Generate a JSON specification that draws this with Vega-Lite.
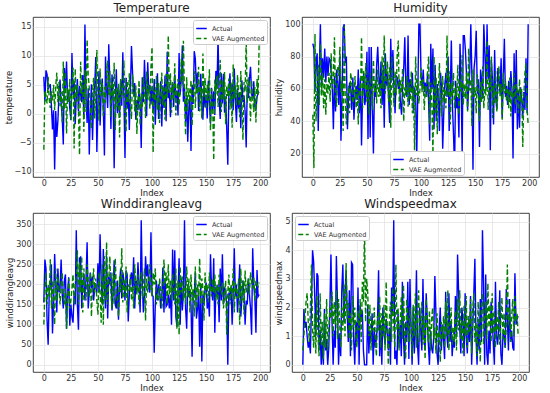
{
"$schema":"https://vega.github.io/schema/vega-lite/v6.json",
"padding":{"left":3,"top":1,"right":5,"bottom":1},
"columns":2,
"align":"none",
"spacing":{"row":0,"column":3},
"resolve":{"scale":{"color":"independent","strokeDash":"independent","x":"independent","y":"independent"},"legend":{"color":"independent","strokeDash":"independent"}},
"config":{
 "font":"DejaVu Sans",
 "view":{"stroke":"#111","strokeWidth":0.8},
 "axis":{"grid":true,"gridColor":"#e3e3e3","gridWidth":0.8,"domain":false,"ticks":false,"labelFontSize":8,"labelColor":"#333","titleFontSize":8.5,"titleFontWeight":"normal","titleColor":"#222","labelPadding":2,"titlePadding":1},
 "title":{"fontSize":12,"fontWeight":"normal","color":"#222","offset":2},
 "legend":{"title":null,"symbolType":"stroke","symbolSize":110,"symbolStrokeWidth":1.6,"labelFontSize":6.5,"labelColor":"#333","rowPadding":0,"padding":2,"strokeColor":"#cccccc","fillColor":"#ffffff","cornerRadius":2,"offset":3,"labelOffset":4}
},
"datasets":{
"temperature":[
{"Index":0,"Actual":6.4,"VAE Augmented":-6.2},{"Index":1,"Actual":2.1,"VAE Augmented":4.0},{"Index":2,"Actual":7.5,"VAE Augmented":3.2},{"Index":3,"Actual":6.8,"VAE Augmented":1.8},{"Index":4,"Actual":4.2,"VAE Augmented":6.4},{"Index":5,"Actual":4.9,"VAE Augmented":2.5},{"Index":6,"Actual":5.0,"VAE Augmented":1.0},{"Index":7,"Actual":1.5,"VAE Augmented":3.9},{"Index":8,"Actual":-2.7,"VAE Augmented":2.2},{"Index":9,"Actual":0.6,"VAE Augmented":5.0},
{"Index":10,"Actual":-9.6,"VAE Augmented":0.6},{"Index":11,"Actual":0.5,"VAE Augmented":4.8},{"Index":12,"Actual":-4.0,"VAE Augmented":7.1},{"Index":13,"Actual":-1.2,"VAE Augmented":2.0},{"Index":14,"Actual":3.5,"VAE Augmented":5.5},{"Index":15,"Actual":5.9,"VAE Augmented":1.3},{"Index":16,"Actual":1.8,"VAE Augmented":3.8},{"Index":17,"Actual":-0.5,"VAE Augmented":-1.5},{"Index":18,"Actual":-5.3,"VAE Augmented":9.0},{"Index":19,"Actual":7.9,"VAE Augmented":0.8},
{"Index":20,"Actual":4.1,"VAE Augmented":7.2},{"Index":21,"Actual":9.0,"VAE Augmented":-3.4},{"Index":22,"Actual":2.2,"VAE Augmented":4.4},{"Index":23,"Actual":3.8,"VAE Augmented":2.0},{"Index":24,"Actual":0.9,"VAE Augmented":6.0},{"Index":25,"Actual":-1.1,"VAE Augmented":-1.0},{"Index":26,"Actual":10.5,"VAE Augmented":4.2},{"Index":27,"Actual":3.2,"VAE Augmented":8.0},{"Index":28,"Actual":5.6,"VAE Augmented":-6.0},{"Index":29,"Actual":-1.8,"VAE Augmented":7.8},
{"Index":30,"Actual":2.9,"VAE Augmented":2.1},{"Index":31,"Actual":6.0,"VAE Augmented":4.9},{"Index":32,"Actual":0.4,"VAE Augmented":0.6},{"Index":33,"Actual":4.8,"VAE Augmented":-7.1},{"Index":34,"Actual":3.3,"VAE Augmented":9.0},{"Index":35,"Actual":2.0,"VAE Augmented":3.4},{"Index":36,"Actual":6.7,"VAE Augmented":5.8},{"Index":37,"Actual":-0.9,"VAE Augmented":-3.1},{"Index":38,"Actual":15.4,"VAE Augmented":7.6},{"Index":39,"Actual":3.1,"VAE Augmented":0.3},
{"Index":40,"Actual":-1.6,"VAE Augmented":12.8},{"Index":41,"Actual":4.4,"VAE Augmented":6.8},{"Index":42,"Actual":-7.0,"VAE Augmented":4.5},{"Index":43,"Actual":0.3,"VAE Augmented":1.5},{"Index":44,"Actual":5.1,"VAE Augmented":-2.6},{"Index":45,"Actual":-4.5,"VAE Augmented":3.7},{"Index":46,"Actual":2.6,"VAE Augmented":6.2},{"Index":47,"Actual":4.7,"VAE Augmented":-0.8},{"Index":48,"Actual":9.8,"VAE Augmented":4.0},{"Index":49,"Actual":-6.6,"VAE Augmented":11.0},
{"Index":50,"Actual":1.9,"VAE Augmented":2.7},{"Index":51,"Actual":7.4,"VAE Augmented":-1.2},{"Index":52,"Actual":-2.0,"VAE Augmented":7.8},{"Index":53,"Actual":3.6,"VAE Augmented":3.0},{"Index":54,"Actual":6.1,"VAE Augmented":5.3},{"Index":55,"Actual":0.8,"VAE Augmented":-0.4},{"Index":56,"Actual":-7.2,"VAE Augmented":4.6},{"Index":57,"Actual":9.9,"VAE Augmented":1.9},{"Index":58,"Actual":4.3,"VAE Augmented":6.9},{"Index":59,"Actual":1.0,"VAE Augmented":9.2},
{"Index":60,"Actual":12.0,"VAE Augmented":3.1},{"Index":61,"Actual":5.5,"VAE Augmented":7.4},{"Index":62,"Actual":-2.6,"VAE Augmented":-0.5},{"Index":63,"Actual":6.8,"VAE Augmented":5.6},{"Index":64,"Actual":3.0,"VAE Augmented":2.3},{"Index":65,"Actual":-9.4,"VAE Augmented":8.8},{"Index":66,"Actual":2.2,"VAE Augmented":-2.8},{"Index":67,"Actual":7.7,"VAE Augmented":4.5},{"Index":68,"Actual":0.1,"VAE Augmented":1.0},{"Index":69,"Actual":4.6,"VAE Augmented":5.2},
{"Index":70,"Actual":-0.7,"VAE Augmented":-4.1},{"Index":71,"Actual":5.8,"VAE Augmented":6.0},{"Index":72,"Actual":1.4,"VAE Augmented":2.7},{"Index":73,"Actual":10.6,"VAE Augmented":3.4},{"Index":74,"Actual":2.9,"VAE Augmented":9.2},{"Index":75,"Actual":-7.6,"VAE Augmented":0.5},{"Index":76,"Actual":6.2,"VAE Augmented":-3.0},{"Index":77,"Actual":0.9,"VAE Augmented":5.7},{"Index":78,"Actual":3.7,"VAE Augmented":2.0},{"Index":79,"Actual":-2.8,"VAE Augmented":7.0},
{"Index":80,"Actual":4.0,"VAE Augmented":1.3},{"Index":81,"Actual":11.7,"VAE Augmented":-0.9},{"Index":82,"Actual":7.0,"VAE Augmented":6.8},{"Index":83,"Actual":3.1,"VAE Augmented":3.6},{"Index":84,"Actual":5.3,"VAE Augmented":0.4},{"Index":85,"Actual":-1.0,"VAE Augmented":4.9},{"Index":86,"Actual":2.4,"VAE Augmented":-3.5},{"Index":87,"Actual":0.6,"VAE Augmented":2.5},{"Index":88,"Actual":4.4,"VAE Augmented":5.8},{"Index":89,"Actual":1.8,"VAE Augmented":-2.0},
{"Index":90,"Actual":-5.9,"VAE Augmented":3.5},{"Index":91,"Actual":6.3,"VAE Augmented":1.1},{"Index":92,"Actual":2.0,"VAE Augmented":6.4},{"Index":93,"Actual":9.3,"VAE Augmented":4.0},{"Index":94,"Actual":4.1,"VAE Augmented":-0.7},{"Index":95,"Actual":-0.4,"VAE Augmented":7.3},{"Index":96,"Actual":8.9,"VAE Augmented":2.4},{"Index":97,"Actual":3.8,"VAE Augmented":5.0},{"Index":98,"Actual":5.0,"VAE Augmented":0.9},{"Index":99,"Actual":1.6,"VAE Augmented":8.0},
{"Index":100,"Actual":4.7,"VAE Augmented":11.5},{"Index":101,"Actual":0.2,"VAE Augmented":-6.7},{"Index":102,"Actual":6.0,"VAE Augmented":4.1},{"Index":103,"Actual":-1.9,"VAE Augmented":2.2},{"Index":104,"Actual":3.4,"VAE Augmented":6.5},{"Index":105,"Actual":7.0,"VAE Augmented":0.7},{"Index":106,"Actual":-0.9,"VAE Augmented":5.3},{"Index":107,"Actual":2.5,"VAE Augmented":-1.6},{"Index":108,"Actual":5.6,"VAE Augmented":3.0},{"Index":109,"Actual":-2.2,"VAE Augmented":7.1},
{"Index":110,"Actual":4.9,"VAE Augmented":1.5},{"Index":111,"Actual":1.0,"VAE Augmented":4.6},{"Index":112,"Actual":6.6,"VAE Augmented":-1.0},{"Index":113,"Actual":-1.3,"VAE Augmented":6.9},{"Index":114,"Actual":10.7,"VAE Augmented":2.8},{"Index":115,"Actual":2.7,"VAE Augmented":13.5},{"Index":116,"Actual":4.2,"VAE Augmented":3.6},{"Index":117,"Actual":-0.6,"VAE Augmented":7.0},{"Index":118,"Actual":3.9,"VAE Augmented":0.2},{"Index":119,"Actual":5.4,"VAE Augmented":5.5},
{"Index":120,"Actual":1.2,"VAE Augmented":2.6},{"Index":121,"Actual":6.8,"VAE Augmented":8.7},{"Index":122,"Actual":2.5,"VAE Augmented":-0.3},{"Index":123,"Actual":4.0,"VAE Augmented":4.3},{"Index":124,"Actual":-0.3,"VAE Augmented":6.0},{"Index":125,"Actual":10.5,"VAE Augmented":1.4},{"Index":126,"Actual":3.3,"VAE Augmented":3.9},{"Index":127,"Actual":5.9,"VAE Augmented":9.5},{"Index":128,"Actual":11.8,"VAE Augmented":5.1},{"Index":129,"Actual":2.1,"VAE Augmented":12.6},
{"Index":130,"Actual":4.5,"VAE Augmented":3.0},{"Index":131,"Actual":-1.5,"VAE Augmented":-3.7},{"Index":132,"Actual":2.8,"VAE Augmented":6.3},{"Index":133,"Actual":-4.8,"VAE Augmented":0.5},{"Index":134,"Actual":0.9,"VAE Augmented":4.4},{"Index":135,"Actual":3.2,"VAE Augmented":2.1},{"Index":136,"Actual":-6.4,"VAE Augmented":5.8},{"Index":137,"Actual":5.0,"VAE Augmented":-2.1},{"Index":138,"Actual":1.7,"VAE Augmented":3.3},{"Index":139,"Actual":10.8,"VAE Augmented":7.4},
{"Index":140,"Actual":9.5,"VAE Augmented":1.0},{"Index":141,"Actual":4.2,"VAE Augmented":5.2},{"Index":142,"Actual":7.1,"VAE Augmented":3.5},{"Index":143,"Actual":0.5,"VAE Augmented":8.1},{"Index":144,"Actual":3.6,"VAE Augmented":0.4},{"Index":145,"Actual":6.9,"VAE Augmented":4.6},{"Index":146,"Actual":2.3,"VAE Augmented":-0.8},{"Index":147,"Actual":-1.0,"VAE Augmented":10.4},{"Index":148,"Actual":4.8,"VAE Augmented":2.9},{"Index":149,"Actual":1.1,"VAE Augmented":6.2},
{"Index":150,"Actual":3.3,"VAE Augmented":0.8},{"Index":151,"Actual":-0.8,"VAE Augmented":5.0},{"Index":152,"Actual":5.7,"VAE Augmented":2.2},{"Index":153,"Actual":2.0,"VAE Augmented":7.7},{"Index":154,"Actual":-1.7,"VAE Augmented":-2.9},{"Index":155,"Actual":4.5,"VAE Augmented":4.3},{"Index":156,"Actual":0.6,"VAE Augmented":1.6},{"Index":157,"Actual":3.9,"VAE Augmented":-8.0},{"Index":158,"Actual":-0.2,"VAE Augmented":5.9},{"Index":159,"Actual":7.4,"VAE Augmented":3.4},
{"Index":160,"Actual":4.3,"VAE Augmented":6.6},{"Index":161,"Actual":13.3,"VAE Augmented":1.2},{"Index":162,"Actual":2.6,"VAE Augmented":4.0},{"Index":163,"Actual":-0.9,"VAE Augmented":9.3},{"Index":164,"Actual":7.0,"VAE Augmented":0.3},{"Index":165,"Actual":1.8,"VAE Augmented":5.7},{"Index":166,"Actual":6.9,"VAE Augmented":2.5},{"Index":167,"Actual":0.2,"VAE Augmented":7.2},{"Index":168,"Actual":3.0,"VAE Augmented":-1.8},{"Index":169,"Actual":-2.4,"VAE Augmented":4.8},
{"Index":170,"Actual":-8.8,"VAE Augmented":3.1},{"Index":171,"Actual":4.1,"VAE Augmented":6.1},{"Index":172,"Actual":7.0,"VAE Augmented":0.7},{"Index":173,"Actual":1.5,"VAE Augmented":5.4},{"Index":174,"Actual":5.2,"VAE Augmented":-2.4},{"Index":175,"Actual":0.6,"VAE Augmented":8.5},{"Index":176,"Actual":7.8,"VAE Augmented":2.6},{"Index":177,"Actual":2.2,"VAE Augmented":4.9},{"Index":178,"Actual":-1.4,"VAE Augmented":1.5},{"Index":179,"Actual":4.4,"VAE Augmented":6.7},
{"Index":180,"Actual":0.9,"VAE Augmented":3.2},{"Index":181,"Actual":3.7,"VAE Augmented":-0.6},{"Index":182,"Actual":-2.5,"VAE Augmented":7.4},{"Index":183,"Actual":5.8,"VAE Augmented":2.0},{"Index":184,"Actual":2.0,"VAE Augmented":-4.5},{"Index":185,"Actual":3.1,"VAE Augmented":5.5},{"Index":186,"Actual":0.4,"VAE Augmented":3.8},{"Index":187,"Actual":-5.8,"VAE Augmented":12.8},{"Index":188,"Actual":4.9,"VAE Augmented":1.9},{"Index":189,"Actual":2.7,"VAE Augmented":6.3},
{"Index":190,"Actual":6.0,"VAE Augmented":4.1},{"Index":191,"Actual":8.1,"VAE Augmented":-1.3},{"Index":192,"Actual":3.4,"VAE Augmented":5.8},{"Index":193,"Actual":2.5,"VAE Augmented":2.7},{"Index":194,"Actual":5.6,"VAE Augmented":0.3},{"Index":195,"Actual":1.2,"VAE Augmented":4.6},{"Index":196,"Actual":0.8,"VAE Augmented":-1.5},{"Index":197,"Actual":2.9,"VAE Augmented":6.0},{"Index":198,"Actual":3.6,"VAE Augmented":3.3},{"Index":199,"Actual":3.8,"VAE Augmented":12.3}
],
"humidity":[
{"Index":0,"Actual":88,"VAE Augmented":44},{"Index":1,"Actual":85,"VAE Augmented":11},{"Index":2,"Actual":58,"VAE Augmented":94},{"Index":3,"Actual":76,"VAE Augmented":40},{"Index":4,"Actual":82,"VAE Augmented":61},{"Index":5,"Actual":34,"VAE Augmented":75},{"Index":6,"Actual":72,"VAE Augmented":50},{"Index":7,"Actual":100,"VAE Augmented":88},{"Index":8,"Actual":62,"VAE Augmented":56},{"Index":9,"Actual":79,"VAE Augmented":70},
{"Index":10,"Actual":67,"VAE Augmented":48},{"Index":11,"Actual":85,"VAE Augmented":66},{"Index":12,"Actual":64,"VAE Augmented":44},{"Index":13,"Actual":80,"VAE Augmented":63},{"Index":14,"Actual":68,"VAE Augmented":57},{"Index":15,"Actual":79,"VAE Augmented":70},{"Index":16,"Actual":78,"VAE Augmented":52},{"Index":17,"Actual":70,"VAE Augmented":82},{"Index":18,"Actual":61,"VAE Augmented":60},{"Index":19,"Actual":35,"VAE Augmented":67},
{"Index":20,"Actual":68,"VAE Augmented":92},{"Index":21,"Actual":46,"VAE Augmented":55},{"Index":22,"Actual":72,"VAE Augmented":49},{"Index":23,"Actual":63,"VAE Augmented":74},{"Index":24,"Actual":50,"VAE Augmented":68},{"Index":25,"Actual":80,"VAE Augmented":86},{"Index":26,"Actual":28,"VAE Augmented":58},{"Index":27,"Actual":55,"VAE Augmented":65},{"Index":28,"Actual":98,"VAE Augmented":34},{"Index":29,"Actual":100,"VAE Augmented":99},
{"Index":30,"Actual":76,"VAE Augmented":52},{"Index":31,"Actual":80,"VAE Augmented":38},{"Index":32,"Actual":35,"VAE Augmented":57},{"Index":33,"Actual":55,"VAE Augmented":62},{"Index":34,"Actual":64,"VAE Augmented":45},{"Index":35,"Actual":60,"VAE Augmented":70},{"Index":36,"Actual":47,"VAE Augmented":64},{"Index":37,"Actual":67,"VAE Augmented":51},{"Index":38,"Actual":41,"VAE Augmented":55},{"Index":39,"Actual":56,"VAE Augmented":68},
{"Index":40,"Actual":62,"VAE Augmented":48},{"Index":41,"Actual":53,"VAE Augmented":60},{"Index":42,"Actual":72,"VAE Augmented":38},{"Index":43,"Actual":45,"VAE Augmented":62},{"Index":44,"Actual":67,"VAE Augmented":55},{"Index":45,"Actual":25,"VAE Augmented":92},{"Index":46,"Actual":58,"VAE Augmented":48},{"Index":47,"Actual":70,"VAE Augmented":71},{"Index":48,"Actual":50,"VAE Augmented":60},{"Index":49,"Actual":55,"VAE Augmented":76},
{"Index":50,"Actual":83,"VAE Augmented":52},{"Index":51,"Actual":29,"VAE Augmented":65},{"Index":52,"Actual":86,"VAE Augmented":44},{"Index":53,"Actual":30,"VAE Augmented":70},{"Index":54,"Actual":86,"VAE Augmented":61},{"Index":55,"Actual":50,"VAE Augmented":47},{"Index":56,"Actual":20,"VAE Augmented":78},{"Index":57,"Actual":62,"VAE Augmented":58},{"Index":58,"Actual":55,"VAE Augmented":66},{"Index":59,"Actual":75,"VAE Augmented":51},
{"Index":60,"Actual":86,"VAE Augmented":72},{"Index":61,"Actual":68,"VAE Augmented":55},{"Index":62,"Actual":57,"VAE Augmented":63},{"Index":63,"Actual":77,"VAE Augmented":48},{"Index":64,"Actual":50,"VAE Augmented":80},{"Index":65,"Actual":72,"VAE Augmented":60},{"Index":66,"Actual":36,"VAE Augmented":93},{"Index":67,"Actual":82,"VAE Augmented":57},{"Index":68,"Actual":62,"VAE Augmented":68},{"Index":69,"Actual":70,"VAE Augmented":77},
{"Index":70,"Actual":55,"VAE Augmented":52},{"Index":71,"Actual":39,"VAE Augmented":74},{"Index":72,"Actual":91,"VAE Augmented":36},{"Index":73,"Actual":67,"VAE Augmented":80},{"Index":74,"Actual":84,"VAE Augmented":62},{"Index":75,"Actual":60,"VAE Augmented":49},{"Index":76,"Actual":45,"VAE Augmented":71},{"Index":77,"Actual":68,"VAE Augmented":56},{"Index":78,"Actual":67,"VAE Augmented":82},{"Index":79,"Actual":60,"VAE Augmented":90},
{"Index":80,"Actual":66,"VAE Augmented":47},{"Index":81,"Actual":51,"VAE Augmented":66},{"Index":82,"Actual":44,"VAE Augmented":58},{"Index":83,"Actual":62,"VAE Augmented":73},{"Index":84,"Actual":73,"VAE Augmented":40},{"Index":85,"Actual":92,"VAE Augmented":61},{"Index":86,"Actual":60,"VAE Augmented":56},{"Index":87,"Actual":55,"VAE Augmented":68},{"Index":88,"Actual":93,"VAE Augmented":49},{"Index":89,"Actual":50,"VAE Augmented":64},
{"Index":90,"Actual":66,"VAE Augmented":53},{"Index":91,"Actual":58,"VAE Augmented":71},{"Index":92,"Actual":70,"VAE Augmented":45},{"Index":93,"Actual":45,"VAE Augmented":62},{"Index":94,"Actual":61,"VAE Augmented":22},{"Index":95,"Actual":56,"VAE Augmented":80},{"Index":96,"Actual":18,"VAE Augmented":56},{"Index":97,"Actual":57,"VAE Augmented":66},{"Index":98,"Actual":100,"VAE Augmented":51},{"Index":99,"Actual":100,"VAE Augmented":60},
{"Index":100,"Actual":68,"VAE Augmented":73},{"Index":101,"Actual":61,"VAE Augmented":58},{"Index":102,"Actual":72,"VAE Augmented":66},{"Index":103,"Actual":58,"VAE Augmented":47},{"Index":104,"Actual":64,"VAE Augmented":62},{"Index":105,"Actual":55,"VAE Augmented":55},{"Index":106,"Actual":70,"VAE Augmented":70},{"Index":107,"Actual":52,"VAE Augmented":80},{"Index":108,"Actual":28,"VAE Augmented":38},{"Index":109,"Actual":88,"VAE Augmented":64},
{"Index":110,"Actual":60,"VAE Augmented":50},{"Index":111,"Actual":85,"VAE Augmented":20},{"Index":112,"Actual":35,"VAE Augmented":80},{"Index":113,"Actual":75,"VAE Augmented":45},{"Index":114,"Actual":40,"VAE Augmented":67},{"Index":115,"Actual":63,"VAE Augmented":32},{"Index":116,"Actual":55,"VAE Augmented":58},{"Index":117,"Actual":34,"VAE Augmented":76},{"Index":118,"Actual":70,"VAE Augmented":55},{"Index":119,"Actual":60,"VAE Augmented":43},
{"Index":120,"Actual":23,"VAE Augmented":68},{"Index":121,"Actual":45,"VAE Augmented":52},{"Index":122,"Actual":63,"VAE Augmented":60},{"Index":123,"Actual":70,"VAE Augmented":48},{"Index":124,"Actual":55,"VAE Augmented":93},{"Index":125,"Actual":80,"VAE Augmented":56},{"Index":126,"Actual":34,"VAE Augmented":71},{"Index":127,"Actual":58,"VAE Augmented":38},{"Index":128,"Actual":90,"VAE Augmented":64},{"Index":129,"Actual":50,"VAE Augmented":53},
{"Index":130,"Actual":32,"VAE Augmented":70},{"Index":131,"Actual":10,"VAE Augmented":48},{"Index":132,"Actual":65,"VAE Augmented":61},{"Index":133,"Actual":48,"VAE Augmented":55},{"Index":134,"Actual":55,"VAE Augmented":75},{"Index":135,"Actual":30,"VAE Augmented":44},{"Index":136,"Actual":88,"VAE Augmented":66},{"Index":137,"Actual":65,"VAE Augmented":58},{"Index":138,"Actual":19,"VAE Augmented":81},{"Index":139,"Actual":93,"VAE Augmented":50},
{"Index":140,"Actual":93,"VAE Augmented":63},{"Index":141,"Actual":84,"VAE Augmented":54},{"Index":142,"Actual":69,"VAE Augmented":70},{"Index":143,"Actual":47,"VAE Augmented":46},{"Index":144,"Actual":60,"VAE Augmented":85},{"Index":145,"Actual":70,"VAE Augmented":59},{"Index":146,"Actual":100,"VAE Augmented":66},{"Index":147,"Actual":68,"VAE Augmented":37},{"Index":148,"Actual":10,"VAE Augmented":72},{"Index":149,"Actual":73,"VAE Augmented":55},
{"Index":150,"Actual":80,"VAE Augmented":61},{"Index":151,"Actual":96,"VAE Augmented":45},{"Index":152,"Actual":57,"VAE Augmented":69},{"Index":153,"Actual":66,"VAE Augmented":57},{"Index":154,"Actual":24,"VAE Augmented":40},{"Index":155,"Actual":72,"VAE Augmented":65},{"Index":156,"Actual":65,"VAE Augmented":52},{"Index":157,"Actual":54,"VAE Augmented":74},{"Index":158,"Actual":100,"VAE Augmented":48},{"Index":159,"Actual":82,"VAE Augmented":60},
{"Index":160,"Actual":60,"VAE Augmented":56},{"Index":161,"Actual":100,"VAE Augmented":90},{"Index":162,"Actual":66,"VAE Augmented":47},{"Index":163,"Actual":87,"VAE Augmented":67},{"Index":164,"Actual":22,"VAE Augmented":58},{"Index":165,"Actual":78,"VAE Augmented":80},{"Index":166,"Actual":66,"VAE Augmented":42},{"Index":167,"Actual":38,"VAE Augmented":62},{"Index":168,"Actual":84,"VAE Augmented":51},{"Index":169,"Actual":55,"VAE Augmented":71},
{"Index":170,"Actual":47,"VAE Augmented":46},{"Index":171,"Actual":73,"VAE Augmented":58},{"Index":172,"Actual":64,"VAE Augmented":74},{"Index":173,"Actual":58,"VAE Augmented":55},{"Index":174,"Actual":79,"VAE Augmented":63},{"Index":175,"Actual":42,"VAE Augmented":41},{"Index":176,"Actual":68,"VAE Augmented":70},{"Index":177,"Actual":91,"VAE Augmented":57},{"Index":178,"Actual":55,"VAE Augmented":65},{"Index":179,"Actual":62,"VAE Augmented":52},
{"Index":180,"Actual":50,"VAE Augmented":60},{"Index":181,"Actual":65,"VAE Augmented":48},{"Index":182,"Actual":52,"VAE Augmented":67},{"Index":183,"Actual":71,"VAE Augmented":43},{"Index":184,"Actual":60,"VAE Augmented":59},{"Index":185,"Actual":17,"VAE Augmented":54},{"Index":186,"Actual":82,"VAE Augmented":70},{"Index":187,"Actual":45,"VAE Augmented":50},{"Index":188,"Actual":84,"VAE Augmented":63},{"Index":189,"Actual":35,"VAE Augmented":58},
{"Index":190,"Actual":59,"VAE Augmented":45},{"Index":191,"Actual":36,"VAE Augmented":66},{"Index":192,"Actual":61,"VAE Augmented":52},{"Index":193,"Actual":54,"VAE Augmented":60},{"Index":194,"Actual":42,"VAE Augmented":24},{"Index":195,"Actual":58,"VAE Augmented":56},{"Index":196,"Actual":47,"VAE Augmented":70},{"Index":197,"Actual":79,"VAE Augmented":76},{"Index":198,"Actual":45,"VAE Augmented":48},{"Index":199,"Actual":100,"VAE Augmented":38}
],
"winddir":[
{"Index":0,"Actual":155,"VAE Augmented":100},{"Index":1,"Actual":262,"VAE Augmented":180},{"Index":2,"Actual":240,"VAE Augmented":230},{"Index":3,"Actual":110,"VAE Augmented":150},{"Index":4,"Actual":50,"VAE Augmented":200},{"Index":5,"Actual":180,"VAE Augmented":170},{"Index":6,"Actual":200,"VAE Augmented":263},{"Index":7,"Actual":250,"VAE Augmented":140},{"Index":8,"Actual":78,"VAE Augmented":210},{"Index":9,"Actual":150,"VAE Augmented":175},
{"Index":10,"Actual":276,"VAE Augmented":100},{"Index":11,"Actual":200,"VAE Augmented":240},{"Index":12,"Actual":130,"VAE Augmented":160},{"Index":13,"Actual":240,"VAE Augmented":220},{"Index":14,"Actual":180,"VAE Augmented":190},{"Index":15,"Actual":190,"VAE Augmented":150},{"Index":16,"Actual":262,"VAE Augmented":200},{"Index":17,"Actual":175,"VAE Augmented":230},{"Index":18,"Actual":140,"VAE Augmented":175},{"Index":19,"Actual":210,"VAE Augmented":150},
{"Index":20,"Actual":225,"VAE Augmented":190},{"Index":21,"Actual":90,"VAE Augmented":90},{"Index":22,"Actual":180,"VAE Augmented":170},{"Index":23,"Actual":218,"VAE Augmented":215},{"Index":24,"Actual":97,"VAE Augmented":140},{"Index":25,"Actual":150,"VAE Augmented":160},{"Index":26,"Actual":120,"VAE Augmented":190},{"Index":27,"Actual":105,"VAE Augmented":225},{"Index":28,"Actual":180,"VAE Augmented":150},{"Index":29,"Actual":150,"VAE Augmented":200},
{"Index":30,"Actual":335,"VAE Augmented":220},{"Index":31,"Actual":150,"VAE Augmented":285},{"Index":32,"Actual":87,"VAE Augmented":150},{"Index":33,"Actual":265,"VAE Augmented":255},{"Index":34,"Actual":268,"VAE Augmented":180},{"Index":35,"Actual":140,"VAE Augmented":270},{"Index":36,"Actual":200,"VAE Augmented":130},{"Index":37,"Actual":225,"VAE Augmented":240},{"Index":38,"Actual":160,"VAE Augmented":190},{"Index":39,"Actual":215,"VAE Augmented":160},
{"Index":40,"Actual":305,"VAE Augmented":250},{"Index":41,"Actual":140,"VAE Augmented":210},{"Index":42,"Actual":180,"VAE Augmented":170},{"Index":43,"Actual":230,"VAE Augmented":230},{"Index":44,"Actual":190,"VAE Augmented":120},{"Index":45,"Actual":220,"VAE Augmented":200},{"Index":46,"Actual":160,"VAE Augmented":240},{"Index":47,"Actual":190,"VAE Augmented":180},{"Index":48,"Actual":200,"VAE Augmented":215},{"Index":49,"Actual":180,"VAE Augmented":160},
{"Index":50,"Actual":253,"VAE Augmented":125},{"Index":51,"Actual":180,"VAE Augmented":230},{"Index":52,"Actual":325,"VAE Augmented":185},{"Index":53,"Actual":210,"VAE Augmented":105},{"Index":54,"Actual":150,"VAE Augmented":250},{"Index":55,"Actual":288,"VAE Augmented":100},{"Index":56,"Actual":190,"VAE Augmented":270},{"Index":57,"Actual":140,"VAE Augmented":160},{"Index":58,"Actual":270,"VAE Augmented":305},{"Index":59,"Actual":115,"VAE Augmented":150},
{"Index":60,"Actual":220,"VAE Augmented":210},{"Index":61,"Actual":200,"VAE Augmented":270},{"Index":62,"Actual":230,"VAE Augmented":180},{"Index":63,"Actual":135,"VAE Augmented":140},{"Index":64,"Actual":175,"VAE Augmented":230},{"Index":65,"Actual":260,"VAE Augmented":150},{"Index":66,"Actual":150,"VAE Augmented":265},{"Index":67,"Actual":140,"VAE Augmented":190},{"Index":68,"Actual":210,"VAE Augmented":160},{"Index":69,"Actual":112,"VAE Augmented":120},
{"Index":70,"Actual":200,"VAE Augmented":220},{"Index":71,"Actual":240,"VAE Augmented":180},{"Index":72,"Actual":165,"VAE Augmented":290},{"Index":73,"Actual":230,"VAE Augmented":155},{"Index":74,"Actual":210,"VAE Augmented":210},{"Index":75,"Actual":160,"VAE Augmented":170},{"Index":76,"Actual":235,"VAE Augmented":245},{"Index":77,"Actual":225,"VAE Augmented":130},{"Index":78,"Actual":108,"VAE Augmented":200},{"Index":79,"Actual":175,"VAE Augmented":185},
{"Index":80,"Actual":215,"VAE Augmented":225},{"Index":81,"Actual":230,"VAE Augmented":160},{"Index":82,"Actual":190,"VAE Augmented":195},{"Index":83,"Actual":268,"VAE Augmented":140},{"Index":84,"Actual":140,"VAE Augmented":250},{"Index":85,"Actual":210,"VAE Augmented":205},{"Index":86,"Actual":180,"VAE Augmented":175},{"Index":87,"Actual":255,"VAE Augmented":225},{"Index":88,"Actual":195,"VAE Augmented":150},{"Index":89,"Actual":130,"VAE Augmented":200},
{"Index":90,"Actual":360,"VAE Augmented":230},{"Index":91,"Actual":200,"VAE Augmented":165},{"Index":92,"Actual":130,"VAE Augmented":195},{"Index":93,"Actual":175,"VAE Augmented":240},{"Index":94,"Actual":270,"VAE Augmented":110},{"Index":95,"Actual":220,"VAE Augmented":215},{"Index":96,"Actual":250,"VAE Augmented":180},{"Index":97,"Actual":190,"VAE Augmented":210},{"Index":98,"Actual":180,"VAE Augmented":250},{"Index":99,"Actual":330,"VAE Augmented":190},
{"Index":100,"Actual":175,"VAE Augmented":170},{"Index":101,"Actual":170,"VAE Augmented":230},{"Index":102,"Actual":30,"VAE Augmented":200},{"Index":103,"Actual":150,"VAE Augmented":240},{"Index":104,"Actual":210,"VAE Augmented":150},{"Index":105,"Actual":160,"VAE Augmented":180},{"Index":106,"Actual":200,"VAE Augmented":160},{"Index":107,"Actual":185,"VAE Augmented":215},{"Index":108,"Actual":140,"VAE Augmented":185},{"Index":109,"Actual":170,"VAE Augmented":140},
{"Index":110,"Actual":242,"VAE Augmented":180},{"Index":111,"Actual":130,"VAE Augmented":262},{"Index":112,"Actual":215,"VAE Augmented":200},{"Index":113,"Actual":145,"VAE Augmented":230},{"Index":114,"Actual":150,"VAE Augmented":150},{"Index":115,"Actual":175,"VAE Augmented":250},{"Index":116,"Actual":140,"VAE Augmented":175},{"Index":117,"Actual":175,"VAE Augmented":210},{"Index":118,"Actual":100,"VAE Augmented":160},{"Index":119,"Actual":287,"VAE Augmented":225},
{"Index":120,"Actual":160,"VAE Augmented":195},{"Index":121,"Actual":285,"VAE Augmented":150},{"Index":122,"Actual":120,"VAE Augmented":240},{"Index":123,"Actual":95,"VAE Augmented":90},{"Index":124,"Actual":180,"VAE Augmented":210},{"Index":125,"Actual":265,"VAE Augmented":75},{"Index":126,"Actual":100,"VAE Augmented":245},{"Index":127,"Actual":215,"VAE Augmented":180},{"Index":128,"Actual":135,"VAE Augmented":220},{"Index":129,"Actual":180,"VAE Augmented":160},
{"Index":130,"Actual":360,"VAE Augmented":200},{"Index":131,"Actual":140,"VAE Augmented":150},{"Index":132,"Actual":90,"VAE Augmented":245},{"Index":133,"Actual":200,"VAE Augmented":170},{"Index":134,"Actual":170,"VAE Augmented":215},{"Index":135,"Actual":185,"VAE Augmented":130},{"Index":136,"Actual":150,"VAE Augmented":225},{"Index":137,"Actual":20,"VAE Augmented":160},{"Index":138,"Actual":180,"VAE Augmented":190},{"Index":139,"Actual":175,"VAE Augmented":120},
{"Index":140,"Actual":230,"VAE Augmented":245},{"Index":141,"Actual":115,"VAE Augmented":140},{"Index":142,"Actual":140,"VAE Augmented":200},{"Index":143,"Actual":180,"VAE Augmented":170},{"Index":144,"Actual":45,"VAE Augmented":265},{"Index":145,"Actual":200,"VAE Augmented":150},{"Index":146,"Actual":8,"VAE Augmented":215},{"Index":147,"Actual":175,"VAE Augmented":190},{"Index":148,"Actual":150,"VAE Augmented":110},{"Index":149,"Actual":190,"VAE Augmented":230},
{"Index":150,"Actual":205,"VAE Augmented":175},{"Index":151,"Actual":140,"VAE Augmented":200},{"Index":152,"Actual":165,"VAE Augmented":155},{"Index":153,"Actual":120,"VAE Augmented":230},{"Index":154,"Actual":275,"VAE Augmented":190},{"Index":155,"Actual":190,"VAE Augmented":170},{"Index":156,"Actual":160,"VAE Augmented":215},{"Index":157,"Actual":265,"VAE Augmented":180},{"Index":158,"Actual":80,"VAE Augmented":225},{"Index":159,"Actual":195,"VAE Augmented":160},
{"Index":160,"Actual":175,"VAE Augmented":200},{"Index":161,"Actual":200,"VAE Augmented":150},{"Index":162,"Actual":106,"VAE Augmented":225},{"Index":163,"Actual":240,"VAE Augmented":190},{"Index":164,"Actual":160,"VAE Augmented":175},{"Index":165,"Actual":275,"VAE Augmented":205},{"Index":166,"Actual":150,"VAE Augmented":140},{"Index":167,"Actual":190,"VAE Augmented":170},{"Index":168,"Actual":185,"VAE Augmented":210},{"Index":169,"Actual":150,"VAE Augmented":75},
{"Index":170,"Actual":0,"VAE Augmented":180},{"Index":171,"Actual":180,"VAE Augmented":225},{"Index":172,"Actual":160,"VAE Augmented":150},{"Index":173,"Actual":195,"VAE Augmented":200},{"Index":174,"Actual":100,"VAE Augmented":170},{"Index":175,"Actual":180,"VAE Augmented":240},{"Index":176,"Actual":290,"VAE Augmented":130},{"Index":177,"Actual":170,"VAE Augmented":205},{"Index":178,"Actual":200,"VAE Augmented":180},{"Index":179,"Actual":130,"VAE Augmented":165},
{"Index":180,"Actual":180,"VAE Augmented":215},{"Index":181,"Actual":250,"VAE Augmented":100},{"Index":182,"Actual":120,"VAE Augmented":240},{"Index":183,"Actual":165,"VAE Augmented":160},{"Index":184,"Actual":210,"VAE Augmented":210},{"Index":185,"Actual":175,"VAE Augmented":125},{"Index":186,"Actual":100,"VAE Augmented":235},{"Index":187,"Actual":160,"VAE Augmented":180},{"Index":188,"Actual":150,"VAE Augmented":200},{"Index":189,"Actual":215,"VAE Augmented":215},
{"Index":190,"Actual":175,"VAE Augmented":175},{"Index":191,"Actual":140,"VAE Augmented":230},{"Index":192,"Actual":75,"VAE Augmented":205},{"Index":193,"Actual":290,"VAE Augmented":190},{"Index":194,"Actual":200,"VAE Augmented":220},{"Index":195,"Actual":165,"VAE Augmented":160},{"Index":196,"Actual":80,"VAE Augmented":210},{"Index":197,"Actual":236,"VAE Augmented":200},{"Index":198,"Actual":170,"VAE Augmented":195},{"Index":199,"Actual":175,"VAE Augmented":205}
],
"windspeed":[
{"Index":0,"Actual":0,"VAE Augmented":0.5},{"Index":1,"Actual":1.95,"VAE Augmented":1.0},{"Index":2,"Actual":1.3,"VAE Augmented":1.7},{"Index":3,"Actual":1.5,"VAE Augmented":2.2},{"Index":4,"Actual":1.0,"VAE Augmented":2.5},{"Index":5,"Actual":0.6,"VAE Augmented":1.5},{"Index":6,"Actual":0.8,"VAE Augmented":0.8},{"Index":7,"Actual":0.4,"VAE Augmented":2.0},{"Index":8,"Actual":2.1,"VAE Augmented":3.5},{"Index":9,"Actual":4.0,"VAE Augmented":1.2},
{"Index":10,"Actual":3.6,"VAE Augmented":0.6},{"Index":11,"Actual":2.4,"VAE Augmented":1.8},{"Index":12,"Actual":1.0,"VAE Augmented":0.4},{"Index":13,"Actual":3.2,"VAE Augmented":2.4},{"Index":14,"Actual":3.1,"VAE Augmented":1.0},{"Index":15,"Actual":0.5,"VAE Augmented":0.3},{"Index":16,"Actual":1.2,"VAE Augmented":2.5},{"Index":17,"Actual":0,"VAE Augmented":0.7},{"Index":18,"Actual":0.8,"VAE Augmented":1.5},{"Index":19,"Actual":0,"VAE Augmented":0.2},
{"Index":20,"Actual":1.95,"VAE Augmented":1.8},{"Index":21,"Actual":0.5,"VAE Augmented":0.6},{"Index":22,"Actual":0.9,"VAE Augmented":2.3},{"Index":23,"Actual":0,"VAE Augmented":0.5},{"Index":24,"Actual":0.6,"VAE Augmented":1.2},{"Index":25,"Actual":2.0,"VAE Augmented":2.0},{"Index":26,"Actual":3.85,"VAE Augmented":1.6},{"Index":27,"Actual":1.5,"VAE Augmented":2.55},{"Index":28,"Actual":0,"VAE Augmented":1.0},{"Index":29,"Actual":1.2,"VAE Augmented":2.2},
{"Index":30,"Actual":0.6,"VAE Augmented":1.4},{"Index":31,"Actual":3.8,"VAE Augmented":2.6},{"Index":32,"Actual":2.2,"VAE Augmented":0.9},{"Index":33,"Actual":0,"VAE Augmented":2.3},{"Index":34,"Actual":1.1,"VAE Augmented":1.5},{"Index":35,"Actual":0.3,"VAE Augmented":0.6},{"Index":36,"Actual":2.6,"VAE Augmented":2.0},{"Index":37,"Actual":3.5,"VAE Augmented":1.2},{"Index":38,"Actual":1.5,"VAE Augmented":2.8},{"Index":39,"Actual":2.5,"VAE Augmented":1.0},
{"Index":40,"Actual":3.3,"VAE Augmented":3.55},{"Index":41,"Actual":1.8,"VAE Augmented":1.6},{"Index":42,"Actual":0.8,"VAE Augmented":2.2},{"Index":43,"Actual":2.6,"VAE Augmented":0.9},{"Index":44,"Actual":0.3,"VAE Augmented":1.8},{"Index":45,"Actual":3.57,"VAE Augmented":0.5},{"Index":46,"Actual":3.5,"VAE Augmented":2.4},{"Index":47,"Actual":0.9,"VAE Augmented":1.3},{"Index":48,"Actual":0,"VAE Augmented":2.0},{"Index":49,"Actual":1.5,"VAE Augmented":1.0},
{"Index":50,"Actual":0.8,"VAE Augmented":0.6},{"Index":51,"Actual":2.7,"VAE Augmented":1.9},{"Index":52,"Actual":0,"VAE Augmented":1.2},{"Index":53,"Actual":2.1,"VAE Augmented":2.3},{"Index":54,"Actual":1.5,"VAE Augmented":0.8},{"Index":55,"Actual":1.9,"VAE Augmented":2.9},{"Index":56,"Actual":0.5,"VAE Augmented":2.2},{"Index":57,"Actual":0,"VAE Augmented":4.85},{"Index":58,"Actual":0,"VAE Augmented":1.5},{"Index":59,"Actual":0,"VAE Augmented":3.0},
{"Index":60,"Actual":2.1,"VAE Augmented":2.5},{"Index":61,"Actual":0.4,"VAE Augmented":1.0},{"Index":62,"Actual":1.2,"VAE Augmented":2.1},{"Index":63,"Actual":0.8,"VAE Augmented":0.5},{"Index":64,"Actual":1.8,"VAE Augmented":1.6},{"Index":65,"Actual":0,"VAE Augmented":1.2},{"Index":66,"Actual":1.3,"VAE Augmented":2.0},{"Index":67,"Actual":0.6,"VAE Augmented":0.9},{"Index":68,"Actual":0.9,"VAE Augmented":0.3},{"Index":69,"Actual":1.5,"VAE Augmented":1.7},
{"Index":70,"Actual":3.3,"VAE Augmented":1.2},{"Index":71,"Actual":0.3,"VAE Augmented":2.4},{"Index":72,"Actual":1.4,"VAE Augmented":0.6},{"Index":73,"Actual":0,"VAE Augmented":1.8},{"Index":74,"Actual":2.0,"VAE Augmented":1.0},{"Index":75,"Actual":1.1,"VAE Augmented":2.1},{"Index":76,"Actual":0.7,"VAE Augmented":0.5},{"Index":77,"Actual":1.6,"VAE Augmented":2.9},{"Index":78,"Actual":1.2,"VAE Augmented":1.3},{"Index":79,"Actual":0.5,"VAE Augmented":0},
{"Index":80,"Actual":1.3,"VAE Augmented":1.6},{"Index":81,"Actual":0,"VAE Augmented":2.2},{"Index":82,"Actual":2.7,"VAE Augmented":0.8},{"Index":83,"Actual":1.8,"VAE Augmented":2.7},{"Index":84,"Actual":5.05,"VAE Augmented":1.4},{"Index":85,"Actual":0.2,"VAE Augmented":0.6},{"Index":86,"Actual":0.5,"VAE Augmented":3.5},{"Index":87,"Actual":0,"VAE Augmented":1.2},{"Index":88,"Actual":1.8,"VAE Augmented":2.0},{"Index":89,"Actual":0.6,"VAE Augmented":0.5},
{"Index":90,"Actual":1.4,"VAE Augmented":1.5},{"Index":91,"Actual":0.3,"VAE Augmented":2.4},{"Index":92,"Actual":2.9,"VAE Augmented":0.9},{"Index":93,"Actual":1.0,"VAE Augmented":2.8},{"Index":94,"Actual":0,"VAE Augmented":1.1},{"Index":95,"Actual":1.5,"VAE Augmented":0.2},{"Index":96,"Actual":0.8,"VAE Augmented":2.3},{"Index":97,"Actual":2.9,"VAE Augmented":1.6},{"Index":98,"Actual":0.2,"VAE Augmented":0.8},{"Index":99,"Actual":3.0,"VAE Augmented":2.0},
{"Index":100,"Actual":1.3,"VAE Augmented":1.3},{"Index":101,"Actual":0,"VAE Augmented":0.3},{"Index":102,"Actual":2.0,"VAE Augmented":2.1},{"Index":103,"Actual":0.4,"VAE Augmented":1.0},{"Index":104,"Actual":1.2,"VAE Augmented":2.5},{"Index":105,"Actual":3.3,"VAE Augmented":0.6},{"Index":106,"Actual":0.7,"VAE Augmented":1.9},{"Index":107,"Actual":0,"VAE Augmented":2.6},{"Index":108,"Actual":2.0,"VAE Augmented":0.8},{"Index":109,"Actual":1.2,"VAE Augmented":1.5},
{"Index":110,"Actual":0.5,"VAE Augmented":2.2},{"Index":111,"Actual":3.0,"VAE Augmented":0.7},{"Index":112,"Actual":1.0,"VAE Augmented":1.7},{"Index":113,"Actual":0.5,"VAE Augmented":0.2},{"Index":114,"Actual":2.5,"VAE Augmented":2.3},{"Index":115,"Actual":1.6,"VAE Augmented":1.4},{"Index":116,"Actual":0.7,"VAE Augmented":0.8},{"Index":117,"Actual":0,"VAE Augmented":1.9},{"Index":118,"Actual":1.2,"VAE Augmented":0.5},{"Index":119,"Actual":0.6,"VAE Augmented":1.6},
{"Index":120,"Actual":0.4,"VAE Augmented":2.0},{"Index":121,"Actual":1.0,"VAE Augmented":0.9},{"Index":122,"Actual":3.1,"VAE Augmented":1.3},{"Index":123,"Actual":1.8,"VAE Augmented":0.4},{"Index":124,"Actual":0.4,"VAE Augmented":1.8},{"Index":125,"Actual":0,"VAE Augmented":0.8},{"Index":126,"Actual":1.2,"VAE Augmented":1.2},{"Index":127,"Actual":2.0,"VAE Augmented":0.1},{"Index":128,"Actual":0.5,"VAE Augmented":1.5},{"Index":129,"Actual":1.4,"VAE Augmented":0.9},
{"Index":130,"Actual":0.9,"VAE Augmented":1.7},{"Index":131,"Actual":0.2,"VAE Augmented":0.6},{"Index":132,"Actual":2.55,"VAE Augmented":2.2},{"Index":133,"Actual":1.1,"VAE Augmented":1.0},{"Index":134,"Actual":0.6,"VAE Augmented":2.6},{"Index":135,"Actual":2.5,"VAE Augmented":0.5},{"Index":136,"Actual":0.8,"VAE Augmented":1.4},{"Index":137,"Actual":1.5,"VAE Augmented":2.0},{"Index":138,"Actual":0.3,"VAE Augmented":0.7},{"Index":139,"Actual":0.9,"VAE Augmented":1.3},
{"Index":140,"Actual":0.6,"VAE Augmented":0.8},{"Index":141,"Actual":2.4,"VAE Augmented":1.9},{"Index":142,"Actual":1.0,"VAE Augmented":0.5},{"Index":143,"Actual":3.85,"VAE Augmented":2.3},{"Index":144,"Actual":2.5,"VAE Augmented":1.2},{"Index":145,"Actual":1.3,"VAE Augmented":2.6},{"Index":146,"Actual":0.4,"VAE Augmented":0.9},{"Index":147,"Actual":2.0,"VAE Augmented":1.6},{"Index":148,"Actual":1.5,"VAE Augmented":0.4},{"Index":149,"Actual":0.3,"VAE Augmented":2.1},
{"Index":150,"Actual":2.5,"VAE Augmented":1.0},{"Index":151,"Actual":1.0,"VAE Augmented":2.4},{"Index":152,"Actual":0.4,"VAE Augmented":0.6},{"Index":153,"Actual":1.5,"VAE Augmented":1.7},{"Index":154,"Actual":0.8,"VAE Augmented":1.1},{"Index":155,"Actual":2.4,"VAE Augmented":2.3},{"Index":156,"Actual":0,"VAE Augmented":0.4},{"Index":157,"Actual":1.3,"VAE Augmented":1.9},{"Index":158,"Actual":2.5,"VAE Augmented":2.5},{"Index":159,"Actual":3.7,"VAE Augmented":0.8},
{"Index":160,"Actual":1.0,"VAE Augmented":1.5},{"Index":161,"Actual":0,"VAE Augmented":0.3},{"Index":162,"Actual":1.6,"VAE Augmented":2.2},{"Index":163,"Actual":0.5,"VAE Augmented":1.0},{"Index":164,"Actual":2.3,"VAE Augmented":0.1},{"Index":165,"Actual":0.8,"VAE Augmented":2.0},{"Index":166,"Actual":4.7,"VAE Augmented":2.5},{"Index":167,"Actual":2.9,"VAE Augmented":0.7},{"Index":168,"Actual":0,"VAE Augmented":1.6},{"Index":169,"Actual":3.15,"VAE Augmented":2.2},
{"Index":170,"Actual":0.4,"VAE Augmented":0.9},{"Index":171,"Actual":0,"VAE Augmented":2.85},{"Index":172,"Actual":1.2,"VAE Augmented":1.3},{"Index":173,"Actual":0.4,"VAE Augmented":2.1},{"Index":174,"Actual":2.2,"VAE Augmented":0.8},{"Index":175,"Actual":1.5,"VAE Augmented":2.5},{"Index":176,"Actual":0.8,"VAE Augmented":1.1},{"Index":177,"Actual":0,"VAE Augmented":1.9},{"Index":178,"Actual":2.9,"VAE Augmented":0.6},{"Index":179,"Actual":1.0,"VAE Augmented":1.7},
{"Index":180,"Actual":0.7,"VAE Augmented":1.2},{"Index":181,"Actual":1.3,"VAE Augmented":2.2},{"Index":182,"Actual":2.6,"VAE Augmented":0.7},{"Index":183,"Actual":0.4,"VAE Augmented":1.5},{"Index":184,"Actual":0,"VAE Augmented":2.35},{"Index":185,"Actual":1.1,"VAE Augmented":0.9},{"Index":186,"Actual":1.0,"VAE Augmented":1.8},{"Index":187,"Actual":0.6,"VAE Augmented":0.6},{"Index":188,"Actual":2.65,"VAE Augmented":1.3},{"Index":189,"Actual":1.6,"VAE Augmented":3.5},
{"Index":190,"Actual":0.5,"VAE Augmented":1.4},{"Index":191,"Actual":2.3,"VAE Augmented":2.0},{"Index":192,"Actual":0.8,"VAE Augmented":0.8},{"Index":193,"Actual":1.2,"VAE Augmented":1.7},{"Index":194,"Actual":0.6,"VAE Augmented":2.3},{"Index":195,"Actual":0.5,"VAE Augmented":1.0},{"Index":196,"Actual":3.2,"VAE Augmented":2.4},{"Index":197,"Actual":1.4,"VAE Augmented":1.5},{"Index":198,"Actual":1.6,"VAE Augmented":1.8},{"Index":199,"Actual":1.7,"VAE Augmented":1.0}
]
},
"concat":[
{"title":"Temperature","width":237,"height":160,"data":{"name":"temperature"},
 "transform":[{"fold":["Actual","VAE Augmented"],"as":["series","value"]}],
 "mark":{"type":"line","strokeWidth":1.4},
 "encoding":{
  "x":{"field":"Index","type":"quantitative","scale":{"domain":[-10,209],"nice":false},"axis":{"values":[0,25,50,75,100,125,150,175,200],"title":"Index"}},
  "y":{"field":"value","type":"quantitative","scale":{"domain":[-10.9,16.7],"nice":false,"zero":false},"axis":{"values":[-10,-5,0,5,10,15],"title":"temperature"}},
  "color":{"field":"series","type":"nominal","scale":{"domain":["Actual","VAE Augmented"],"range":["#0000ff","#008000"]},"legend":{"orient":"top-right"}},
  "strokeDash":{"field":"series","type":"nominal","scale":{"domain":["Actual","VAE Augmented"],"range":[[1,0],[5,2.5]]},"legend":{"orient":"top-right"}}
 }},
{"title":"Humidity","width":237,"height":160,"data":{"name":"humidity"},
 "transform":[{"fold":["Actual","VAE Augmented"],"as":["series","value"]}],
 "mark":{"type":"line","strokeWidth":1.4},
 "encoding":{
  "x":{"field":"Index","type":"quantitative","scale":{"domain":[-10,209],"nice":false},"axis":{"values":[0,25,50,75,100,125,150,175,200],"title":"Index"}},
  "y":{"field":"value","type":"quantitative","scale":{"domain":[5.5,104.5],"nice":false,"zero":false},"axis":{"values":[20,40,60,80,100],"title":"humidity"}},
  "color":{"field":"series","type":"nominal","scale":{"domain":["Actual","VAE Augmented"],"range":["#0000ff","#008000"]},"legend":{"orient":"none","legendX":88,"legendY":134}},
  "strokeDash":{"field":"series","type":"nominal","scale":{"domain":["Actual","VAE Augmented"],"range":[[1,0],[5,2.5]]},"legend":{"orient":"none","legendX":88,"legendY":134}}
 }},
{"title":"Winddirangleavg","width":237,"height":159,"data":{"name":"winddir"},
 "transform":[{"fold":["Actual","VAE Augmented"],"as":["series","value"]}],
 "mark":{"type":"line","strokeWidth":1.4},
 "encoding":{
  "x":{"field":"Index","type":"quantitative","scale":{"domain":[-10,209],"nice":false},"axis":{"values":[0,25,50,75,100,125,150,175,200],"title":"Index"}},
  "y":{"field":"value","type":"quantitative","scale":{"domain":[-18,378],"nice":false,"zero":false},"axis":{"values":[0,50,100,150,200,250,300,350],"title":"winddirangleavg"}},
  "color":{"field":"series","type":"nominal","scale":{"domain":["Actual","VAE Augmented"],"range":["#0000ff","#008000"]},"legend":{"orient":"top-right"}},
  "strokeDash":{"field":"series","type":"nominal","scale":{"domain":["Actual","VAE Augmented"],"range":[[1,0],[5,2.5]]},"legend":{"orient":"top-right"}}
 }},
{"title":"Windspeedmax","width":237,"height":159,"data":{"name":"windspeed"},
 "transform":[{"fold":["Actual","VAE Augmented"],"as":["series","value"]}],
 "mark":{"type":"line","strokeWidth":1.4},
 "encoding":{
  "x":{"field":"Index","type":"quantitative","scale":{"domain":[-10,209],"nice":false},"axis":{"values":[0,25,50,75,100,125,150,175,200],"title":"Index"}},
  "y":{"field":"value","type":"quantitative","scale":{"domain":[-0.25,5.3],"nice":false,"zero":false},"axis":{"values":[0,1,2,3,4,5],"title":"windspeedmax"}},
  "color":{"field":"series","type":"nominal","scale":{"domain":["Actual","VAE Augmented"],"range":["#0000ff","#008000"]},"legend":{"orient":"top-left"}},
  "strokeDash":{"field":"series","type":"nominal","scale":{"domain":["Actual","VAE Augmented"],"range":[[1,0],[5,2.5]]},"legend":{"orient":"top-left"}}
 }}
]
}
